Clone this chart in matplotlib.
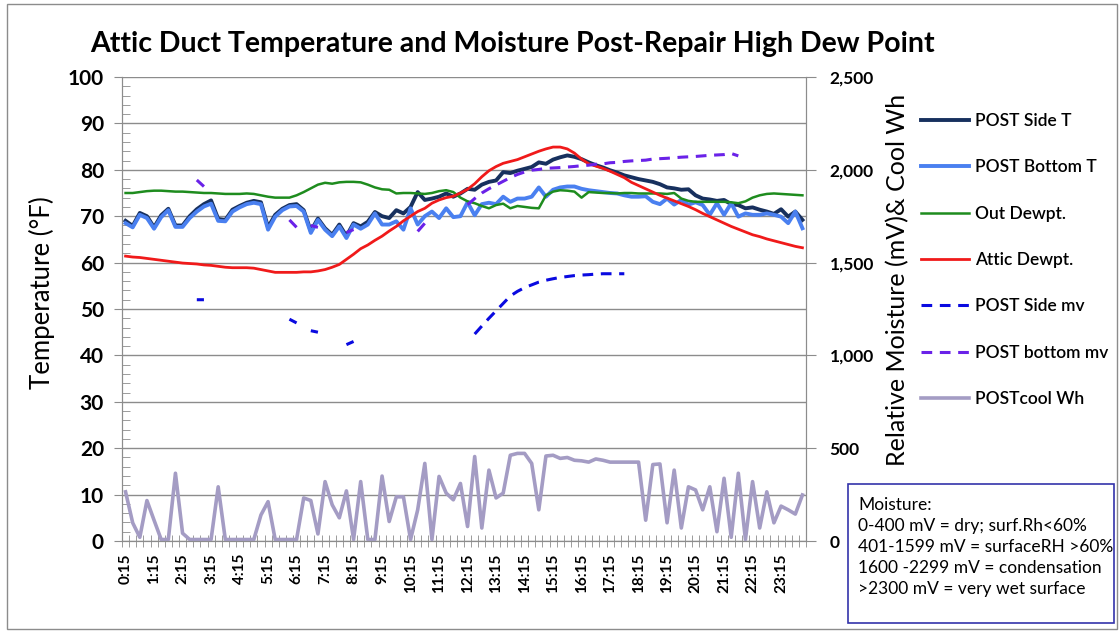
import numpy as np
import matplotlib
matplotlib.use("Agg")
import matplotlib.pyplot as plt
from matplotlib.patches import Rectangle

plt.rcParams['font.family'] = ['Lato', 'DejaVu Sans']

# x labels every hour, readings every 15 min from 0:15
tick_labels = ["%d:15" % h for h in range(24)]

side_t = [69.0, 67.9, 70.7, 70.0, 67.6, 70.2, 71.6, 68.0, 68.0, 70.0,
          71.5, 72.6, 73.4, 69.4, 69.2, 71.4, 72.2, 72.9, 73.3, 73.0,
          67.6, 70.3, 71.6, 72.4, 72.6, 71.3, 66.8, 69.5, 67.4, 66.0,
          68.2, 65.7, 68.5, 67.8, 68.8, 70.9, 70.0, 69.6, 71.3, 70.6,
          72.0, 75.2, 73.5, 73.8, 74.2, 74.9, 74.2, 74.9, 75.9, 75.7,
          76.8, 77.4, 77.7, 79.5, 79.3, 79.8, 80.2, 80.6, 81.6, 81.3,
          82.2, 82.7, 83.1, 82.8, 82.3, 81.6, 81.0, 80.5, 79.9, 79.4,
          78.8, 78.4, 78.0, 77.7, 77.4, 76.9, 76.2, 76.0, 75.7, 75.8,
          74.5, 73.8, 73.6, 73.3, 73.5, 72.6, 72.4, 71.7, 71.9, 71.4,
          71.0, 70.5, 71.5, 69.9, 71.0, 69.2]

bottom_t = [68.5, 67.6, 70.3, 69.6, 67.3, 69.8, 71.3, 67.7, 67.7, 69.6,
            71.0, 72.1, 72.7, 69.0, 68.9, 71.0, 71.9, 72.6, 72.9, 72.6,
            67.1, 69.9, 71.3, 72.1, 72.2, 71.0, 66.4, 69.2, 67.1, 65.7,
            67.8, 65.3, 68.2, 67.3, 68.2, 70.6, 68.2, 68.2, 68.9, 67.1,
            71.7, 68.2, 70.0, 71.0, 69.6, 71.7, 69.8, 70.0, 73.0, 70.2,
            72.6, 72.9, 72.6, 74.2, 73.1, 73.8, 73.8, 74.2, 76.2, 74.2,
            75.7, 76.2, 76.4, 76.4, 75.9, 75.6, 75.4, 75.2, 75.0, 74.9,
            74.5, 74.2, 74.2, 74.3, 73.1, 72.6, 73.8, 72.5, 73.5, 72.5,
            73.0, 72.4, 70.3, 72.8, 70.3, 72.8, 69.9, 70.6, 70.3, 70.3,
            70.6, 70.3, 69.9, 68.5, 71.0, 67.4]

out_dewpt = [75.0, 75.0, 75.2, 75.4, 75.5, 75.5, 75.4, 75.3, 75.3, 75.2,
             75.1, 75.0, 75.0, 74.9, 74.8, 74.8, 74.8, 74.9, 74.8, 74.5,
             74.2, 74.0, 74.0, 74.0, 74.5, 75.2, 76.0, 76.8, 77.2, 77.0,
             77.3, 77.4, 77.4, 77.3, 76.8, 76.2, 75.8, 75.7, 74.9, 75.0,
             75.0, 74.9, 74.8, 75.0, 75.4, 75.6, 75.2, 74.0, 73.2, 72.8,
             72.2, 71.7, 72.4, 72.7, 71.7, 72.2, 72.0, 71.8, 71.7, 74.5,
             75.3, 75.6, 75.5, 75.3, 74.0, 75.2, 75.1, 75.0, 75.0, 74.9,
             75.0, 75.0, 74.9, 74.9, 74.9, 74.9, 74.8, 75.0, 73.8, 73.3,
             73.1, 73.1, 73.1, 73.1, 73.1, 73.0, 72.8, 73.2, 74.0, 74.5,
             74.8, 74.9, 74.8, 74.7, 74.6, 74.5]

attic_dewpt = [61.4, 61.2, 61.1, 60.9, 60.7, 60.5, 60.3, 60.1, 59.9, 59.8,
               59.7, 59.5, 59.4, 59.2, 59.0, 58.9, 58.9, 58.9, 58.8, 58.5,
               58.2, 57.9, 57.9, 57.9, 57.9, 58.0, 58.0, 58.2, 58.5, 59.0,
               59.6, 60.7, 61.8, 63.0, 63.8, 64.8, 65.7, 66.8, 67.8, 69.0,
               70.0, 71.0, 71.7, 72.8, 73.5, 74.0, 74.3, 75.0, 75.8, 77.0,
               78.5, 79.8, 80.7, 81.4, 81.8, 82.2, 82.8, 83.4, 84.0, 84.5,
               84.9, 84.9, 84.5, 83.6, 82.3, 81.3, 80.8, 80.3, 79.7, 79.0,
               78.3, 77.3, 76.6, 75.9, 75.2, 74.5, 73.9, 73.3, 72.7, 72.1,
               71.4, 70.6, 69.9, 69.2, 68.5, 67.8, 67.2, 66.6, 66.0, 65.6,
               65.1, 64.7, 64.3, 63.9, 63.5, 63.2]

nan = np.nan
# moisture readings (mV), gaps where no reading
side_mv = [nan] * 10 + [1300, 1300] + [nan] * 11 + [1195, 1175, nan, 1133, 1125] \
    + [nan] * 3 + [1058, 1075] + [nan] * 16 \
    + [1115, 1158, 1200, 1240, 1280, 1320, 1345, 1365, 1380, 1395, 1405,
       1413, 1420, 1425, 1430, 1433, 1435, 1438, 1440, 1440, 1440, 1440] \
    + [nan] * 25

bottom_mv = [nan] * 10 + [1945, 1910] + [nan] * 11 + [1730, 1690, nan, 1700, 1690] \
    + [nan] * 3 + [1662, 1678] + [nan] * 8 + [1668, 1712] + [nan] * 5 \
    + [1812, 1845, 1875, 1898, 1918, 1938, 1958, 1975, 1988, 1998,
       2002, 2008, 2010, 2012, 2015, 2018, 2022, 2025, 2030, 2032,
       2038, 2040, 2045, 2048, 2050, 2052, 2058, 2060, 2062, 2065,
       2068, 2070, 2072, 2075, 2078, 2080, 2082, 2088, 2075] \
    + [nan] * 9

cool_wh = [265, 98, 20, 218, 112, 8, 8, 365, 42, 8,
           8, 8, 8, 292, 8, 8, 8, 8, 8, 140,
           212, 8, 8, 8, 8, 232, 218, 38, 320, 195,
           125, 270, 8, 320, 8, 8, 350, 105, 238, 238,
           8, 168, 418, 8, 348, 258, 222, 310, 78, 455,
           70, 382, 232, 258, 462, 472, 472, 418, 168, 458,
           462, 445, 450, 435, 432, 425, 442, 435, 425, 425,
           425, 425, 425, 112, 412, 415, 98, 382, 70, 292,
           275, 168, 292, 50, 338, 20, 365, 8, 320, 70,
           265, 98, 188, 168, 145, 248]

x = np.arange(len(side_t))

fig = plt.figure(figsize=(11.2, 6.31), dpi=100)
ax = fig.add_axes([122 / 1120, 1 - 541 / 631, 684 / 1120, 464 / 631])
ax2 = ax.twinx()

ax.plot(x, side_t, color='#17305E', lw=2.8, label='POST Side T', zorder=3)
ax.plot(x, bottom_t, color='#4A80F0', lw=2.8, label='POST Bottom T', zorder=3)
ax.plot(x, out_dewpt, color='#1E8C1E', lw=1.8, label='Out Dewpt.', zorder=3)
ax.plot(x, attic_dewpt, color='#F01A1A', lw=2.0, label='Attic Dewpt.', zorder=3)

ax2.plot(x, side_mv, color='#0A0AE0', lw=2.2, dashes=(3.5, 2.5), label='POST Side mv')
ax2.plot(x, bottom_mv, color='#6A22E8', lw=2.2, dashes=(3.5, 2.5), label='POST bottom mv')
ax2.plot(x, cool_wh, color='#A49CC4', lw=2.6, label='POSTcool Wh')

ax.set_xlim(-0.5, 95.5)
ax.set_ylim(0, 100)
ax2.set_ylim(0, 2500)

ax.set_yticks(np.arange(0, 101, 10))
ax.set_yticks(np.arange(0, 101, 2), minor=True)
ax.grid(axis='y', color='#8C8C8C', lw=1.0, zorder=0)
ax.tick_params(axis='y', which='major', direction='out', length=6, color='#8C8C8C',
               labelsize=15, pad=7)
ax.tick_params(axis='y', which='minor', direction='in', length=6, color='#8C8C8C')
for t in ax.get_yticklabels():
    t.set_fontweight('bold')

ax2.set_yticks(np.arange(0, 2501, 500))
ax2.set_yticklabels(['{:,}'.format(v) for v in range(0, 2501, 500)],
                    fontsize=12.5, fontweight='bold')
ax2.tick_params(axis='y', direction='out', length=7, color='#8C8C8C', pad=10)

ax.set_xticks(x[::4])
ax.set_xticklabels(tick_labels, rotation=90, fontsize=11, fontweight='bold')
ax.set_xticks(np.arange(-0.5, 96, 1), minor=True)
ax.tick_params(axis='x', which='major', length=0, pad=9)
ax.tick_params(axis='x', which='minor', direction='inout', length=8, color='#8C8C8C')

for a in (ax, ax2):
    for s in a.spines.values():
        s.set_color('#8C8C8C')
    a.spines['top'].set_visible(False)

fig.text(512 / 1120, 1 - 44 / 631,
         'Attic Duct Temperature and Moisture Post-Repair High Dew Point',
         ha='center', va='center', fontsize=20.5, fontweight='bold')
fig.text(42 / 1120, 1 - 293 / 631, 'Temperature (\u00b0F)', rotation=90,
         ha='center', va='center', fontsize=18.5)
fig.text(898 / 1120, 1 - 280 / 631, 'Relative Moisture (mV)& Cool Wh', rotation=90,
         ha='center', va='center', fontsize=18)

handles = ax.get_lines() + ax2.get_lines()
fig.legend(handles, [h.get_label() for h in handles], loc='upper left',
           bbox_to_anchor=(914 / 1120, 1 - 106 / 631), frameon=False,
           prop={'size': 12.5, 'weight': 'semibold'}, handlelength=2.75,
           handletextpad=0.35, labelspacing=1.75, borderaxespad=0)

fig.patches.append(Rectangle((848 / 1120, 1 - 623 / 631), 266 / 1120, 139 / 631,
                             transform=fig.transFigure, fill=False,
                             edgecolor='#3333AA', lw=1.2))
fig.text(858 / 1120, 1 - 497 / 631,
         'Moisture:\n0-400 mV = dry; surf.Rh<60%\n401-1599 mV = surfaceRH >60%\n'
         '1600 -2299 mV = condensation\n>2300 mV = very wet surface',
         ha='left', va='top', fontsize=12.5, linespacing=1.38)

fig.patches.append(Rectangle((7 / 1120, 2 / 631), 1110 / 1120, 625 / 631,
                             transform=fig.transFigure, fill=False,
                             edgecolor='#8C8C8C', lw=1.0))

fig.savefig('out.png', dpi=100)
